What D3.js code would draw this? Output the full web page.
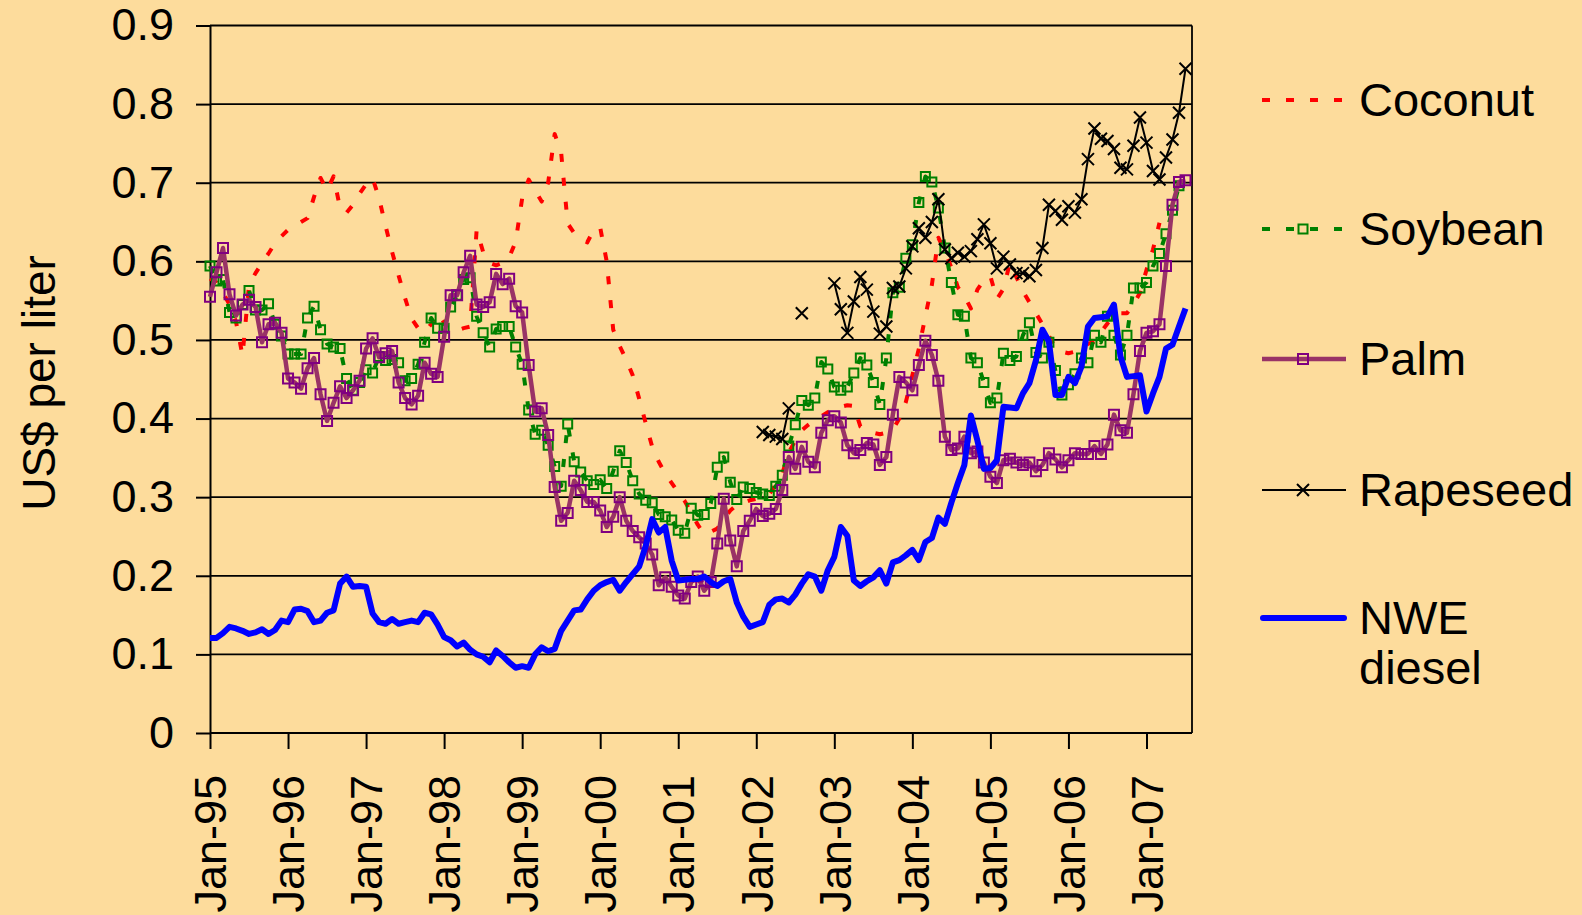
<!DOCTYPE html>
<html>
<head>
<meta charset="utf-8">
<script src="https://cdn.jsdelivr.net/npm/d3@7/dist/d3.min.js"></script>
<style>
  html, body { margin: 0; padding: 0; background: #fddc9c; }
  svg { display: block; }
</style>
</head>
<body>
<div id="chart"></div>
<script>
'use strict';

// Monthly series, index 0 = Jan-95 ... 150 = Jul-07 (US$ per liter)
const tickLabels = ['Jan-95', 'Jan-96', 'Jan-97', 'Jan-98', 'Jan-99', 'Jan-00', 'Jan-01',
                    'Jan-02', 'Jan-03', 'Jan-04', 'Jan-05', 'Jan-06', 'Jan-07'];
const tickMonths = [0, 12, 24, 36, 48, 60, 72, 84, 96, 108, 120, 132, 144];
const yTicks = [0, 0.1, 0.2, 0.3, 0.4, 0.5, 0.6, 0.7, 0.8, 0.9];

const coconut = [
  0.578, 0.573, 0.56, 0.545, 0.523, 0.48, 0.57, 0.585, 0.598, 0.61, 0.623, 0.632,
  0.64, 0.645, 0.65, 0.655, 0.682, 0.706, 0.69, 0.708, 0.668, 0.662, 0.672, 0.686,
  0.698, 0.706, 0.68, 0.645, 0.612, 0.582, 0.553, 0.527, 0.515, 0.51, 0.52, 0.534,
  0.522, 0.513, 0.512, 0.515, 0.517, 0.64, 0.612, 0.598, 0.595, 0.598, 0.605, 0.625,
  0.68, 0.704, 0.69, 0.676, 0.70, 0.762, 0.738, 0.648, 0.636, 0.63, 0.624, 0.64,
  0.643, 0.60, 0.513, 0.492, 0.475, 0.455, 0.425, 0.394, 0.364, 0.345, 0.33, 0.318,
  0.306, 0.295, 0.28, 0.265, 0.253, 0.256, 0.26, 0.272, 0.283, 0.29, 0.293, 0.296,
  0.298, 0.30, 0.304, 0.316, 0.33, 0.357, 0.372, 0.385, 0.392, 0.398, 0.403, 0.408,
  0.412, 0.415, 0.417, 0.416, 0.39, 0.385, 0.382, 0.38, 0.382, 0.386, 0.40, 0.421,
  0.455, 0.489, 0.53, 0.57, 0.63, 0.613, 0.592, 0.567, 0.556, 0.54, 0.564, 0.576,
  0.581, 0.552, 0.565, 0.598, 0.58, 0.562, 0.548, 0.534, 0.52, 0.505, 0.49, 0.485,
  0.483, 0.485, 0.49, 0.495, 0.498, 0.51, 0.521, 0.53, 0.534, 0.534, 0.545, 0.56,
  0.589, 0.615, 0.649
];

const soybean = [
  0.594, 0.575, 0.577, 0.535, 0.528, 0.545, 0.563, 0.538, 0.538, 0.546, 0.52, 0.505,
  0.482, 0.482, 0.482, 0.528, 0.543, 0.513, 0.495, 0.491, 0.489, 0.451, 0.436, 0.446,
  0.462, 0.458, 0.479, 0.474, 0.475, 0.471, 0.448, 0.451, 0.469, 0.497, 0.528, 0.515,
  0.515, 0.542, 0.557, 0.577, 0.579, 0.530, 0.509, 0.491, 0.514, 0.517, 0.517, 0.491,
  0.469, 0.411, 0.380, 0.385, 0.366, 0.339, 0.314, 0.393, 0.345, 0.332, 0.321, 0.316,
  0.322, 0.311, 0.333, 0.359, 0.344, 0.321, 0.304, 0.296, 0.293, 0.278, 0.275, 0.271,
  0.258, 0.254, 0.286, 0.277, 0.278, 0.292, 0.338, 0.351, 0.319, 0.297, 0.313, 0.311,
  0.306, 0.304, 0.302, 0.314, 0.328, 0.365, 0.392, 0.423, 0.417, 0.426, 0.472, 0.463,
  0.440, 0.436, 0.440, 0.458, 0.477, 0.468, 0.446, 0.418, 0.477, 0.560, 0.567, 0.604,
  0.621, 0.675, 0.708, 0.701, 0.668, 0.617, 0.573, 0.532, 0.530, 0.477, 0.471, 0.446,
  0.420, 0.426, 0.483, 0.474, 0.479, 0.506, 0.522, 0.484, 0.477, 0.497, 0.461, 0.430,
  0.443, 0.457, 0.477, 0.471, 0.506, 0.497, 0.530, 0.506, 0.481, 0.506, 0.566, 0.566,
  0.573, 0.594, 0.610, 0.635, 0.665, 0.696
];

const palm = [
  0.555, 0.586, 0.617, 0.558, 0.531, 0.545, 0.551, 0.542, 0.497, 0.520, 0.522, 0.509,
  0.451, 0.446, 0.438, 0.464, 0.477, 0.431, 0.397, 0.420, 0.441, 0.426, 0.436, 0.448,
  0.489, 0.502, 0.478, 0.483, 0.486, 0.446, 0.426, 0.418, 0.429, 0.471, 0.457, 0.453,
  0.504, 0.557, 0.557, 0.586, 0.607, 0.545, 0.542, 0.548, 0.584, 0.571, 0.578, 0.543,
  0.535, 0.468, 0.409, 0.413, 0.379, 0.313, 0.270, 0.280, 0.321, 0.309, 0.294, 0.294,
  0.283, 0.262, 0.275, 0.300, 0.270, 0.257, 0.249, 0.241, 0.227, 0.188, 0.198, 0.186,
  0.175, 0.171, 0.192, 0.199, 0.181, 0.192, 0.241, 0.298, 0.245, 0.212, 0.257, 0.270,
  0.285, 0.276, 0.279, 0.285, 0.309, 0.351, 0.336, 0.364, 0.345, 0.338, 0.382, 0.398,
  0.403, 0.395, 0.366, 0.356, 0.360, 0.369, 0.367, 0.341, 0.351, 0.405, 0.453, 0.446,
  0.436, 0.468, 0.499, 0.481, 0.448, 0.377, 0.360, 0.362, 0.377, 0.356, 0.358, 0.344,
  0.326, 0.318, 0.347, 0.349, 0.344, 0.341, 0.344, 0.333, 0.341, 0.356, 0.348, 0.338,
  0.347, 0.356, 0.355, 0.355, 0.365, 0.355, 0.367, 0.405, 0.385, 0.382, 0.431, 0.486,
  0.509, 0.511, 0.520, 0.594, 0.672, 0.701, 0.703
];

const rapeseed = [
  null, null, null, null, null, null, null, null, null, null, null, null,
  null, null, null, null, null, null, null, null, null, null, null, null,
  null, null, null, null, null, null, null, null, null, null, null, null,
  null, null, null, null, null, null, null, null, null, null, null, null,
  null, null, null, null, null, null, null, null, null, null, null, null,
  null, null, null, null, null, null, null, null, null, null, null, null,
  null, null, null, null, null, null, null, null, null, null, null, null,
  null, 0.383, 0.379, 0.377, 0.374, 0.413, null, 0.534, null, null, null, null,
  0.572, 0.539, 0.509, 0.549, 0.580, 0.564, 0.536, 0.508, 0.517, 0.566, 0.568, 0.591,
  0.619, 0.642, 0.630, 0.650, 0.679, 0.615, 0.604, 0.611, 0.606, 0.613, 0.628, 0.647,
  0.623, 0.591, 0.606, 0.596, 0.585, 0.585, 0.581, 0.589, 0.617, 0.672, 0.664, 0.653,
  0.670, 0.662, 0.679, 0.730, 0.769, 0.756, 0.753, 0.743, 0.719, 0.717, 0.747, 0.783,
  0.751, 0.715, 0.704, 0.732, 0.755, 0.789, 0.845
];

const nweDiesel = [
  0.121, 0.121, 0.127, 0.135, 0.133, 0.130, 0.126, 0.128, 0.132, 0.126, 0.131, 0.143,
  0.141, 0.157, 0.158, 0.155, 0.141, 0.143, 0.153, 0.156, 0.190, 0.199, 0.186, 0.187,
  0.186, 0.152, 0.141, 0.139, 0.145, 0.139, 0.141, 0.143, 0.141, 0.153, 0.151, 0.138,
  0.122, 0.118, 0.110, 0.115, 0.106, 0.100, 0.097, 0.090, 0.105, 0.098, 0.090, 0.083,
  0.085, 0.083, 0.100, 0.109, 0.104, 0.107, 0.130, 0.143, 0.156, 0.157, 0.170, 0.181,
  0.188, 0.192, 0.195, 0.181, 0.192, 0.202, 0.212, 0.238, 0.272, 0.255, 0.262, 0.219,
  0.194, 0.195, 0.196, 0.196, 0.199, 0.192, 0.187, 0.193, 0.196, 0.166, 0.148, 0.135,
  0.138, 0.141, 0.163, 0.170, 0.171, 0.166, 0.176, 0.190, 0.202, 0.199, 0.181, 0.207,
  0.224, 0.262, 0.251, 0.194, 0.187, 0.193, 0.198, 0.207, 0.190, 0.217, 0.220, 0.226,
  0.233, 0.220, 0.243, 0.248, 0.274, 0.266, 0.293, 0.318, 0.341, 0.404, 0.372, 0.336,
  0.337, 0.347, 0.415, 0.414, 0.413, 0.432, 0.445, 0.474, 0.513, 0.498, 0.430, 0.430,
  0.453, 0.445, 0.466, 0.517, 0.528, 0.529, 0.530, 0.545, 0.479, 0.453, 0.454, 0.455,
  0.409, 0.432, 0.453, 0.489, 0.494, 0.517, 0.540
];

const seriesNames = ['Coconut', 'Soybean', 'Palm', 'Rapeseed', 'NWE diesel'];

// Layout
const W = 1582, H = 915;
const plot = { left: 210, right: 1192, top: 25.5, bottom: 733 };
const FONT = "'Liberation Sans', Arial, Helvetica, sans-serif";

const x = d3.scaleLinear().domain([0, 151]).range([plot.left, plot.right]);
const y = d3.scaleLinear().domain([0, 0.9]).range([plot.bottom, plot.top]);

const svg = d3.select('#chart').append('svg')
              .attr('width', W)
              .attr('height', H);

svg.append('rect')
   .attr('width', W)
   .attr('height', H)
   .attr('fill', '#fddc9c');

// Gridlines
svg.append('g')
   .selectAll('line')
   .data(yTicks.filter((d) => d > 0))
   .enter().append('line')
           .attr('x1', plot.left)
           .attr('x2', plot.right)
           .attr('y1', (d) => y(d))
           .attr('y2', (d) => y(d))
           .attr('stroke', '#000')
           .attr('stroke-width', 1.8);

// Right border of plot area
svg.append('line')
   .attr('x1', plot.right).attr('x2', plot.right)
   .attr('y1', plot.top).attr('y2', plot.bottom)
   .attr('stroke', '#000')
   .attr('stroke-width', 1.8);

// Y axis
const yAxis = svg.append('g')
                 .attr('transform', 'translate(' + plot.left + ',0)')
                 .call(d3.axisLeft(y)
                         .tickValues(yTicks)
                         .tickSize(14)
                         .tickSizeOuter(0)
                         .tickPadding(22)
                         .tickFormat((d) => d === 0 ? '0' : d3.format('.1f')(d)));
yAxis.attr('font-family', FONT).attr('font-size', 45);
yAxis.selectAll('line, path').attr('stroke', '#000').attr('stroke-width', 2);
yAxis.selectAll('text').attr('fill', '#000');

// X axis
const xAxis = svg.append('g')
                 .attr('transform', 'translate(0,' + plot.bottom + ')')
                 .call(d3.axisBottom(x)
                         .tickValues(tickMonths)
                         .tickSize(16)
                         .tickSizeOuter(0)
                         .tickFormat((d, i) => tickLabels[i]));
xAxis.attr('font-family', FONT).attr('font-size', 45);
xAxis.select('.domain').attr('d', 'M' + plot.left + ',0H' + plot.right);
xAxis.selectAll('line, path').attr('stroke', '#000').attr('stroke-width', 2);
xAxis.selectAll('text')
     .attr('fill', '#000')
     .attr('transform', 'rotate(-90)')
     .attr('text-anchor', 'end')
     .attr('x', -42)
     .attr('y', 0)
     .attr('dy', '0.35em');

// Y axis title
svg.append('text')
   .attr('transform', 'translate(39,383) rotate(-90)')
   .attr('text-anchor', 'middle')
   .attr('dy', '0.35em')
   .attr('font-family', FONT)
   .attr('font-size', 46)
   .text('US$ per liter');

// Series
const line = d3.line()
               .defined((d) => d != null)
               .x((d, i) => x(i))
               .y((d) => y(d));

const squarePath = (s) => 'M' + (-s / 2) + ',' + (-s / 2) + 'h' + s + 'v' + s + 'h' + (-s) + 'Z';
const crossPath = (s) => 'M' + (-s) + ',' + (-s) + 'L' + s + ',' + s + 'M' + (-s) + ',' + s + 'L' + s + ',' + (-s);

const styles = [
  { data: coconut, color: '#ff0000', width: 4, dash: '8,16' },
  { data: soybean, color: '#008000', width: 4, dash: '8,16',
    marker: squarePath(9), markerColor: '#008000', markerWidth: 2 },
  { data: palm, color: '#993366', width: 4.5,
    marker: squarePath(10), markerColor: '#800080', markerWidth: 2 },
  { data: rapeseed, color: '#000000', width: 2,
    marker: crossPath(6), markerColor: '#000000', markerWidth: 2 },
  { data: nweDiesel, color: '#0000ff', width: 6 }
];

styles.forEach((s) => {
  const g = svg.append('g');
  g.append('path')
   .datum(s.data)
   .attr('d', line)
   .attr('fill', 'none')
   .attr('stroke', s.color)
   .attr('stroke-width', s.width)
   .attr('stroke-dasharray', s.dash || null)
   .attr('stroke-linejoin', 'round');

  if (s.marker) {
    g.selectAll('.mk')
     .data(s.data.map((v, i) => [i, v]).filter((d) => d[1] != null))
     .enter().append('path')
             .attr('class', 'mk')
             .attr('transform', (d) => 'translate(' + x(d[0]) + ',' + y(d[1]) + ')')
             .attr('d', s.marker)
             .attr('fill', 'none')
             .attr('stroke', s.markerColor)
             .attr('stroke-width', s.markerWidth);
  }
});

// Legend
const legendY = [100, 229, 359, 490, 618];
const legend = svg.append('g').attr('font-family', FONT).attr('font-size', 47);

styles.forEach((s, i) => {
  const ly = legendY[i];
  legend.append('line')
        .attr('x1', s.width >= 6 ? 1263 : 1262)
        .attr('x2', s.width >= 6 ? 1344 : 1346)
        .attr('y1', ly).attr('y2', ly)
        .attr('stroke', s.color)
        .attr('stroke-width', s.width)
        .attr('stroke-linecap', s.width >= 6 ? 'round' : 'butt')
        .attr('stroke-dasharray', s.dash || null);
  if (s.marker) {
    legend.append('path')
          .attr('transform', 'translate(1303,' + ly + ')')
          .attr('d', s.marker)
          .attr('fill', 'none')
          .attr('stroke', s.markerColor)
          .attr('stroke-width', s.markerWidth);
  }
  const words = seriesNames[i] === 'NWE diesel' ? ['NWE', 'diesel'] : [seriesNames[i]];
  const t = legend.append('text')
                  .attr('x', 1359)
                  .attr('y', ly)
                  .attr('fill', '#000');
  words.forEach((w, k) => {
    t.append('tspan')
     .attr('x', 1359)
     .attr('dy', k === 0 ? '0.35em' : 50)
     .text(w);
  });
});
</script>
</body>
</html>
